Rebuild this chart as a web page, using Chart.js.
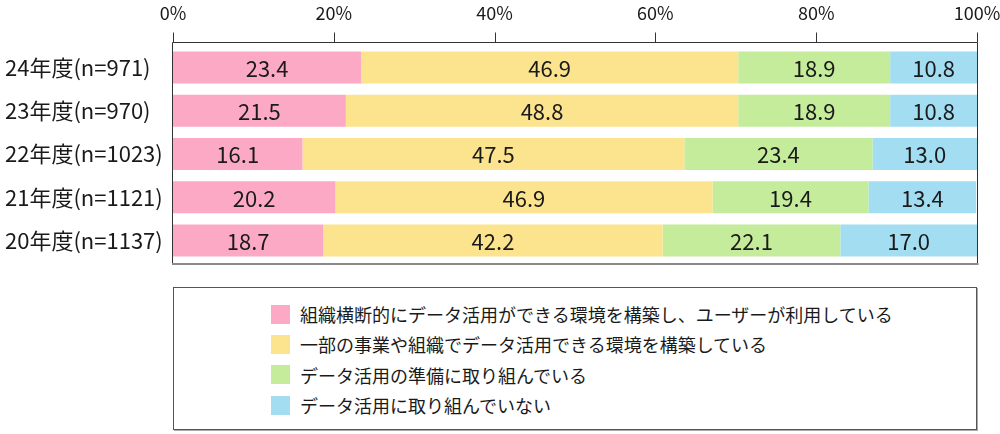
<!DOCTYPE html>
<html>
<head>
<meta charset="utf-8">
<script src="https://cdn.jsdelivr.net/npm/chart.js@4.4.1/dist/chart.umd.min.js"></script>
<style>
body { margin: 0; background: #fff; font-family: "Noto Sans CJK JP", sans-serif; }
#wrap { position: relative; width: 1000px; height: 270px; }
#legend { position: absolute; left: 173px; top: 287px; width: 802px; height: 130px;
  border: 1px solid #555; box-shadow: 1px 1px 0 #aaa; padding-top: 11px; box-sizing: content-box; }
#legend .item { height: 30.3px; display: flex; align-items: center; margin-left: 97px;
  font-size: 18px; color: #1a1a1a; }
#legend .box { width: 19px; height: 19px; margin-right: 10px; flex: none; }
</style>
</head>
<body>
<div id="wrap"><canvas id="chart" width="1000" height="270"></canvas></div>
<div id="legend"></div>
<script>
// Data
const years = ['24年度(n=971)', '23年度(n=970)', '22年度(n=1023)', '21年度(n=1121)', '20年度(n=1137)'];
const seriesNames = [
    '組織横断的にデータ活用ができる環境を構築し、ユーザーが利用している',
    '一部の事業や組織でデータ活用できる環境を構築している',
    'データ活用の準備に取り組んでいる',
    'データ活用に取り組んでいない'
];
const acrossOrg = [23.4, 21.5, 16.1, 20.2, 18.7];
const partOfOrg = [46.9, 48.8, 47.5, 46.9, 42.2];
const preparing = [18.9, 18.9, 23.4, 19.4, 22.1];
const notUsing = [10.8, 10.8, 13.0, 13.4, 17.0];
const xTicks = [0, 20, 40, 60, 80, 100];
const colors = ['#FCA9C6', '#FCE38E', '#C4EC9B', '#A2DDF2'];

const textColor = '#1a1a1a';
const fontFamily = '"Noto Sans CJK JP", sans-serif';

// Frame + tick marks on the top axis
const framePlugin = {
    id: 'frame',
    afterDraw(chart) {
        const ctx = chart.ctx;
        const xScale = chart.scales.x;
        const top = 42.5;
        ctx.save();
        ctx.strokeStyle = '#333';
        ctx.lineWidth = 1;
        ctx.beginPath();
        ctx.moveTo(172.5, 264);
        ctx.lineTo(172.5, top);
        ctx.lineTo(977.5, top);
        ctx.lineTo(977.5, 264);
        xTicks.forEach(v => {
            const x = Math.round(xScale.getPixelForValue(v)) + 0.5;
            ctx.moveTo(x, top);
            ctx.lineTo(x, top - 10);
        });
        ctx.stroke();
        ctx.strokeStyle = '#8a8a8a';
        ctx.lineWidth = 2;
        ctx.beginPath();
        ctx.moveTo(172, 264);
        ctx.lineTo(978.5, 264);
        ctx.stroke();
        ctx.restore();
    }
};

// Values in the middle of each segment
const valueLabels = {
    id: 'valueLabels',
    afterDatasetsDraw(chart) {
        const ctx = chart.ctx;
        ctx.save();
        ctx.fillStyle = textColor;
        ctx.font = '22px ' + fontFamily;
        ctx.textAlign = 'center';
        ctx.textBaseline = 'middle';
        chart.data.datasets.forEach((ds, i) => {
            chart.getDatasetMeta(i).data.forEach((bar, j) => {
                const p = bar.getCenterPoint();
                ctx.fillText(ds.data[j].toFixed(1), p.x, p.y + 1);
            });
        });
        ctx.restore();
    }
};

const seriesData = [acrossOrg, partOfOrg, preparing, notUsing];

new Chart(document.getElementById('chart'), {
    type: 'bar',
    data: {
        labels: years,
        datasets: seriesNames.map((name, i) => ({
            label: name,
            data: seriesData[i],
            backgroundColor: colors[i],
            borderWidth: 0,
            categoryPercentage: 1,
            barPercentage: 0.74
        }))
    },
    options: {
        indexAxis: 'y',
        responsive: false,
        animation: false,
        layout: { autoPadding: false, padding: { top: 0, right: 23, bottom: 8, left: 5 } },
        plugins: {
            legend: { display: false },
            tooltip: { enabled: false }
        },
        scales: {
            x: {
                stacked: true,
                position: 'top',
                min: 0,
                max: 100,
                grid: { display: false, drawTicks: true, tickLength: 10 },
                border: { display: false },
                ticks: {
                    stepSize: 20,
                    padding: 12,
                    color: textColor,
                    font: { family: fontFamily, size: 18 },
                    callback: v => v + '%'
                },
                afterFit: s => { s.height = 46; s.paddingLeft = 0; s.paddingRight = 0; }
            },
            y: {
                stacked: true,
                grid: { display: false, drawTicks: false },
                border: { display: false },
                ticks: {
                    crossAlign: 'far',
                    padding: 10,
                    color: textColor,
                    font: { family: fontFamily, size: 22 }
                },
                afterFit: s => { s.width = 168; s.paddingTop = 0; s.paddingBottom = 0; }
            }
        }
    },
    plugins: [framePlugin, valueLabels]
});

// Legend
const legend = document.getElementById('legend');
seriesNames.forEach((name, i) => {
    const item = document.createElement('div');
    item.className = 'item';
    item.innerHTML = `<span class="box" style="background:${colors[i]}"></span><span>${name}</span>`;
    legend.appendChild(item);
});
</script>
</body>
</html>
